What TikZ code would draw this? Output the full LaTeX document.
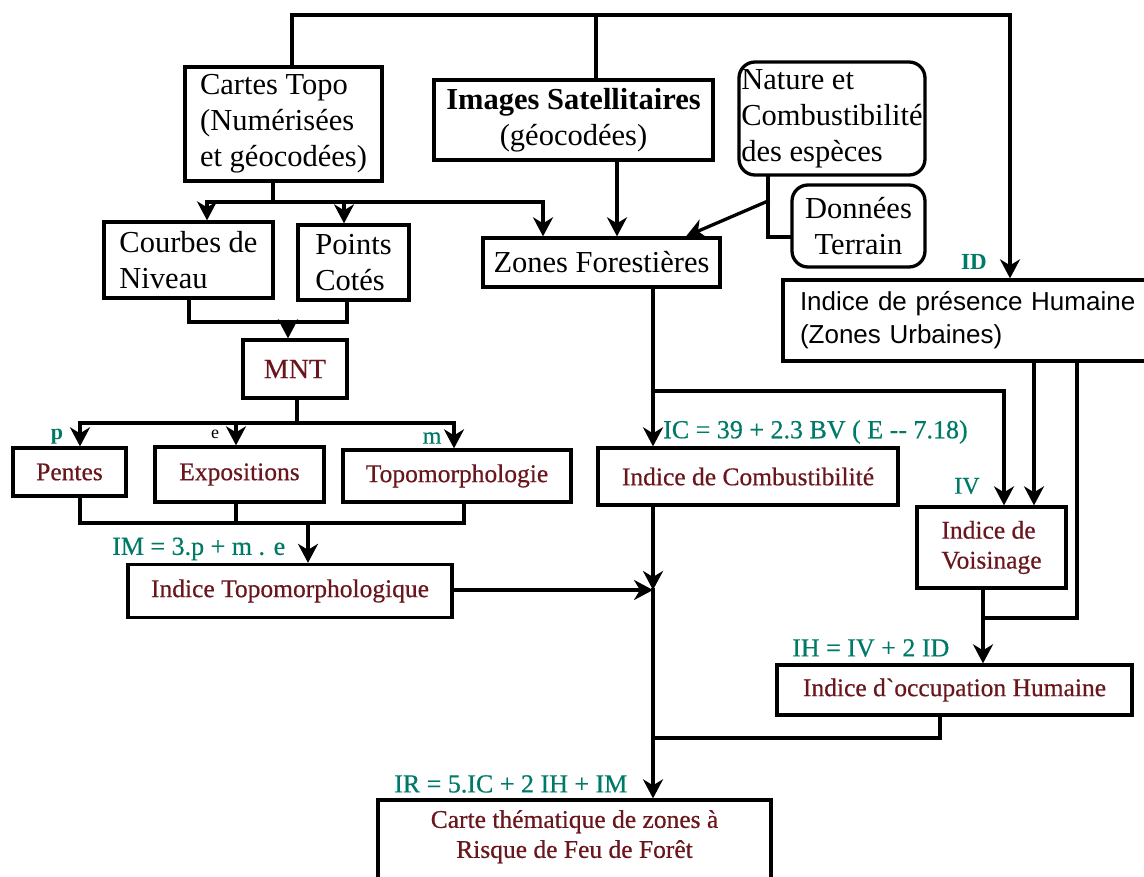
\documentclass[tikz,border=0pt]{standalone}
\usepackage{fontspec}
\setmainfont{Liberation Serif}
\newfontfamily\sansf{Liberation Sans}
\newfontfamily\heavyf[FakeBold=0.5]{Liberation Serif}
\usetikzlibrary{arrows.meta}
\definecolor{idxred}{RGB}{105,22,28}
\definecolor{eqteal}{RGB}{0,122,104}
\begin{document}
\begin{tikzpicture}[x=1pt,y=-1pt,
  box/.style={draw, line width=3.3pt, inner sep=0pt, rectangle, align=center},
  rbox/.style={box, rounded corners=16pt},
  bigtext/.style={font=\fontsize{30.5}{36}\selectfont},
  idxtext/.style={text=idxred, font=\heavyf\fontsize{25.5}{30}\selectfont},
  eqlabel/.style={text=eqteal, font=\heavyf\fontsize{26}{30}\selectfont, inner sep=0pt},
  link/.style={line width=3.3pt, line cap=rect, line join=miter},
  arr/.style={link, -{Stealth[length=19pt,width=20pt,inset=6pt]}},
]
\useasboundingbox (0,0) rectangle (1144,877);

% --- source data boxes
\node[box, bigtext, align=left, minimum width=197pt, minimum height=114pt] (cartes) at (283.5,124)
  {Cartes Topo\\(Numérisées\\et géocodées)};
\node[box, bigtext, minimum width=279pt, minimum height=80pt] (images) at (573.5,120)
  {\textbf{Images Satellitaires}\\(géocodées)};
\node[rbox, bigtext, align=left, minimum width=186pt, minimum height=113pt] (nature) at (832,118.5)
  {Nature et\\Combustibilité\\des espèces};
\node[rbox, bigtext, minimum width=133pt, minimum height=82pt] (donnees) at (858.5,226)
  {Données\\Terrain};

% --- derived layers
\node[box, bigtext, minimum width=237pt, minimum height=49pt] (zones) at (601.5,262.5) {Zones Forestières};
\node[box, bigtext, align=left, minimum width=169pt, minimum height=76pt] (courbes) at (188.5,260)
  {Courbes de\\Niveau};
\node[box, bigtext, align=left, minimum width=111pt, minimum height=75pt] (points) at (353.5,262.5)
  {Points\\Cotés};
\node[box, text=idxred, font=\heavyf\fontsize{28}{32}\selectfont, minimum width=104pt, minimum height=58pt] (mnt) at (295,369) {MNT};
\node[box, idxtext, minimum width=113pt, minimum height=48pt] (pentes) at (69.5,472) {Pentes};
\node[box, idxtext, minimum width=169pt, minimum height=55pt] (expo) at (239.5,474.5) {Expositions};
\node[box, idxtext, minimum width=228pt, minimum height=52pt] (topo) at (457,476) {Topomorphologie};
\node[box, idxtext, minimum width=324pt, minimum height=53pt] (indtopo) at (290,591) {Indice Topomorphologique};

\node[box, font=\sansf\fontsize{26}{33}\selectfont, align=left, text width=338pt,
  minimum width=372pt, minimum height=81pt] (presence) at (969,320.5)
  {Indice de présence Humaine\\(Zones Urbaines)};
\node[box, idxtext, minimum width=300pt, minimum height=57pt] (combust) at (748,476.5)
  {Indice de Combustibilité};
\node[box, idxtext, align=left, minimum width=149pt, minimum height=81pt] (voisin) at (991.5,547.5)
  {Indice de\\Voisinage};
\node[box, idxtext, minimum width=355pt, minimum height=50pt] (occup) at (954.5,690)
  {Indice d`occupation Humaine};
\node[box, idxtext, minimum width=393pt, minimum height=100pt, text depth=32pt] (carte) at (574.5,850)
  {Carte thématique de zones à\\Risque de Feu de Forêt};

% --- formula and variable labels
\node[eqlabel, font=\bfseries\fontsize{23}{28}\selectfont] (lid) at (974,262) {ID};
\node[eqlabel, font=\bfseries\fontsize{22}{28}\selectfont] (lp) at (57,437) {p};
\node[inner sep=0pt, font=\fontsize{18}{22}\selectfont] (le) at (215,434) {e};
\node[eqlabel, font=\heavyf\fontsize{24}{28}\selectfont] (lm) at (432,438) {m};
\node[eqlabel, anchor=west] (lim) at (112,549) {IM = 3.p + m . e};
\node[eqlabel, anchor=west] (lic) at (663,432) {IC = 39 + 2.3 BV ( E {-}{-} 7.18)};
\node[eqlabel, font=\heavyf\fontsize{24}{28}\selectfont] (liv) at (967,486) {IV};
\node[eqlabel, anchor=west] (lih) at (792,648) {IH = IV + 2 ID};
\node[eqlabel, anchor=west] (lir) at (394,784) {IR = 5.IC + 2 IH + IM};

% --- junction points of the connectors
\coordinate (tl) at (292,15);
\coordinate (tm) at (596,15);
\coordinate (tr) at (1010,15);
\coordinate (cb) at (273,202);
\coordinate (cbl) at (207,202);
\coordinate (cbp) at (344,202);
\coordinate (cbr) at (543,202);
\coordinate (jcl) at (189,322);
\coordinate (jcm) at (288,322);
\coordinate (jcr) at (347,322);
\coordinate (mb) at (297,423);
\coordinate (mbl) at (80,423);
\coordinate (mbe) at (236,423);
\coordinate (mbr) at (454,423);
\coordinate (bl) at (80,523);
\coordinate (be) at (236,523);
\coordinate (bm) at (308,523);
\coordinate (br) at (464,523);
\coordinate (iz) at (617,200);
\coordinate (nv) at (768,237);
\coordinate (nd) at (768,201);
\coordinate (nz) at (686,240);
\coordinate (zv) at (653,391);
\coordinate (zr) at (1004,391);
\coordinate (pv) at (1034,400);
\coordinate (pr) at (1077,618);
\coordinate (pj) at (983,618);
\coordinate (mj) at (653,590);
\coordinate (oj) at (940,738);
\coordinate (ol) at (653,738);

% --- connectors
\draw[arr] (cartes.north -| tl) -- (tl) -- (tr) -- (presence.north -| tr);
\draw[link] (images.north -| tm) -- (tm);

\draw[link] (cartes.south -| cb) -- (cb);
\draw[link] (cbl) -- (cbr);
\draw[arr] (cbl) -- (courbes.north -| cbl);
\draw[arr] (cbp) -- (points.north -| cbp);
\draw[arr] (cbr) -- (zones.north -| cbr);

\draw[link] (courbes.south -| jcl) -- (jcl) -- (jcr) -- (points.south -| jcr);
\draw[arr] (jcm) -- (mnt.north -| jcm);

\draw[link] (mnt.south -| mb) -- (mb);
\draw[arr] (mb) -- (mbl) -- (pentes.north -| mbl);
\draw[arr] (mbe) -- (expo.north -| mbe);
\draw[arr] (mb) -- (mbr) -- (topo.north -| mbr);

\draw[link] (pentes.south -| bl) -- (bl) -- (br) -- (topo.south -| br);
\draw[link] (expo.south -| be) -- (be);
\draw[arr] (bm) -- (indtopo.north -| bm);

\draw[arr] (images.south -| iz) -- (zones.north -| iz);
\draw[link] (nature.south -| nv) -- (nv) -- (donnees.west |- nv);
\draw[arr] (nd) -- (zones.north -| nz);

\draw[arr] (zones.south -| zv) -- (combust.north -| zv);
\draw[arr] (zv) -- (zr) -- (voisin.north -| zr);
\draw[arr] (presence.south -| pv) -- (voisin.north -| pv);
\draw[link] (presence.south -| pr) -- (pr) -- (pj);
\draw[arr] (voisin.south -| pj) -- (occup.north -| pj);

\draw[arr] (combust.south -| mj) -- (mj);
\draw[arr] (indtopo.east |- mj) -- (mj);
\draw[arr] (mj) -- (carte.north -| mj);
\draw[link] (occup.south -| oj) -- (oj) -- (ol);
\end{tikzpicture}
\end{document}
